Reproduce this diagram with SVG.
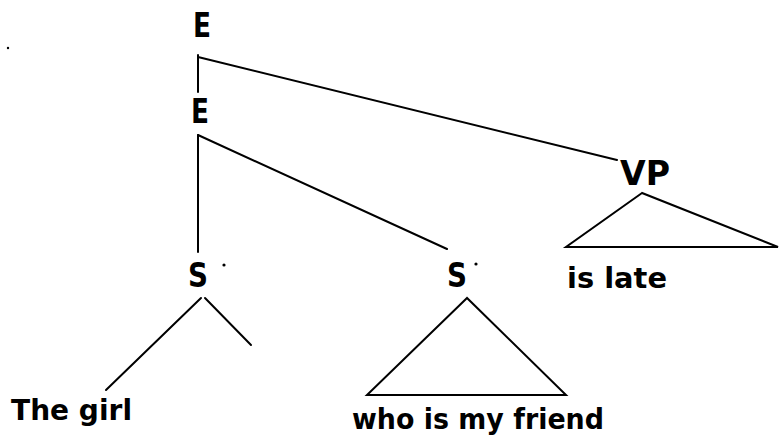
<svg xmlns="http://www.w3.org/2000/svg" width="781" height="436" viewBox="0 0 781 436">
<style>
.lbl{font-family:"DejaVu Sans","Liberation Sans",sans-serif;font-weight:bold;fill:#000}
.cat{font-size:34px}
.word{font-size:29px}
.ln{stroke:#000;stroke-width:2;fill:none;stroke-linecap:round}
</style>
<rect width="781" height="436" fill="#fff"/>
<circle cx="8" cy="48" r="1.2" fill="#000"/>
<g id="connectors">
<line class="ln" x1="198" y1="55" x2="198" y2="92"/>
<line class="ln" x1="198" y1="57" x2="617" y2="160"/>
<line class="ln" x1="198" y1="135" x2="198" y2="252"/>
<line class="ln" x1="198" y1="135" x2="447" y2="249"/>
<line class="ln" x1="201" y1="298" x2="106" y2="390"/>
<line class="ln" x1="205" y1="298" x2="251" y2="345"/>
</g>
<g id="E1"><text class="lbl cat" x="193" y="37" textLength="18" lengthAdjust="spacingAndGlyphs">E</text></g>
<g id="E2"><text class="lbl cat" x="191" y="123" textLength="18" lengthAdjust="spacingAndGlyphs">E</text></g>
<g id="VP"><text class="lbl cat" x="620" y="185" textLength="50" lengthAdjust="spacingAndGlyphs">VP</text>
<polygon class="ln" points="642,193 566,247 778,247"/>
<text class="lbl word" x="567" y="288" textLength="100" lengthAdjust="spacingAndGlyphs">is late</text></g>
<g id="S1"><text class="lbl cat" x="188" y="287" textLength="20" lengthAdjust="spacingAndGlyphs">S</text><circle cx="224" cy="265" r="1.6" fill="#000"/></g>
<g id="S2"><text class="lbl cat" x="447" y="287" textLength="20" lengthAdjust="spacingAndGlyphs">S</text><circle cx="476" cy="264" r="1.6" fill="#000"/>
<polygon class="ln" points="467,298 367,395 566,395"/>
<text class="lbl word" x="352" y="429" textLength="252" lengthAdjust="spacingAndGlyphs">who is my friend</text></g>
<g id="girl"><text class="lbl word" x="11" y="420" textLength="121" lengthAdjust="spacingAndGlyphs">The girl</text></g>
</svg>
